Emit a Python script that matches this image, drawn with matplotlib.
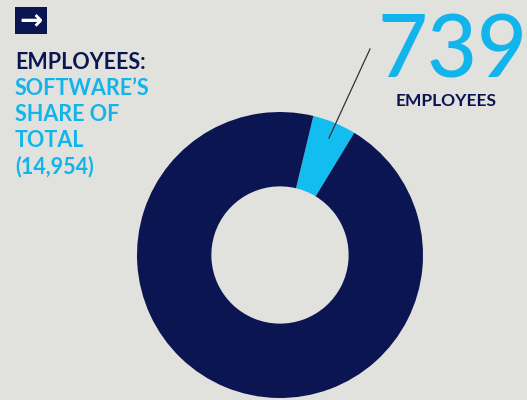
import matplotlib.pyplot as plt
from matplotlib.patches import Rectangle

# datos
total = 14954
software = 739
valores = [software, total - software]
colores = ['#12bdf0', '#0b1551']

W, H = 527, 400
fig = plt.figure(figsize=(W / 100, H / 100), dpi=100)
fig.patch.set_facecolor('#e1e1dd')

# donut
cx, cy, r = 280, 255, 143
ax = fig.add_axes([(cx - r) / W, (H - cy - r) / H, 2 * r / W, 2 * r / H])
ax.pie(valores, colors=colores, startangle=76.5, counterclock=False,
       radius=1, wedgeprops=dict(width=0.52, edgecolor='none'))
ax.set_xlim(-1, 1)
ax.set_ylim(-1, 1)
ax.set_aspect('auto')
ax.axis('off')

def fx(px):
    return px / W

def fy(py):
    return 1 - py / H

# flecha
fig.patches.append(Rectangle((fx(15), fy(34)), 32 / W, 27 / H, transform=fig.transFigure,
                             facecolor='#0b1551', edgecolor='none'))
fig.text(fx(31), fy(21), '→', color='white', fontsize=20, fontweight='bold',
         ha='center', va='center', family='DejaVu Sans')

# titulo
fig.text(fx(15), fy(69), 'EMPLOYEES:', color='#0b1551', fontsize=15.5, fontweight='bold',
         family='Lato', va='baseline')
lineas = ['SOFTWARE\u2019S', 'SHARE OF', 'TOTAL', '(14,954)']
for i, t in enumerate(lineas):
    fig.text(fx(15), fy(95 + 26 * i), t, color='#12b4ec', fontsize=15.5, fontweight='bold',
             family='Lato', va='baseline')

# numero grande
fig.text(fx(378), fy(77), str(software), color='#12b4ec', fontsize=62,
         fontweight='medium', family='Lato', va='baseline')
fig.text(fx(446), fy(106), 'EMPLOYEES', color='#0b1551', fontsize=12.5, fontweight='bold',
         family='Lato', ha='center', va='baseline')

# linea guia
fig.add_artist(plt.Line2D([fx(370), fx(329)], [fy(49), fy(138)], color='#333333', lw=0.9))

plt.savefig('out.png', dpi=100, facecolor=fig.get_facecolor())
